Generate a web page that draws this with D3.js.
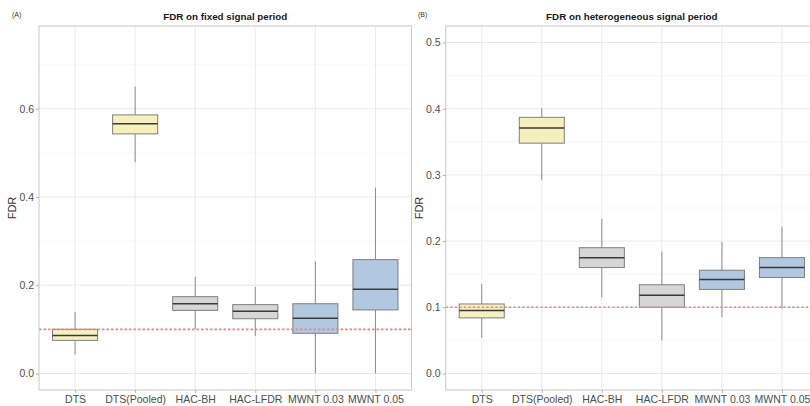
<!DOCTYPE html>
<html>
<head>
<meta charset="utf-8">
<script src="https://cdn.jsdelivr.net/npm/d3@7"></script>
<style>
  html, body { margin: 0; padding: 0; background: #fff; }
  svg { display: block; font-family: "Liberation Sans", Arial, sans-serif; }
</style>
</head>
<body>
<svg id="chart" width="810" height="406"></svg>
<script>
// Methods compared on the x axis
const methods = ["DTS", "DTS(Pooled)", "HAC-BH", "HAC-LFDR", "MWNT 0.03", "MWNT 0.05"];
const methodGroup = ["dts", "dts", "hac", "hac", "mwnt", "mwnt"];

// Panel A: FDR on fixed signal period (five-number summaries)
const fixedLow    = [0.043, 0.479, 0.100, 0.085, 0.000, 0.000];
const fixedQ1     = [0.075, 0.543, 0.143, 0.124, 0.091, 0.144];
const fixedMedian = [0.086, 0.566, 0.158, 0.141, 0.125, 0.191];
const fixedQ3     = [0.100, 0.586, 0.174, 0.156, 0.158, 0.258];
const fixedHigh   = [0.139, 0.650, 0.219, 0.196, 0.254, 0.421];
const fixedTicks  = [0.0, 0.2, 0.4, 0.6];

// Panel B: FDR on heterogeneous signal period
const hetLow    = [0.054, 0.292, 0.115, 0.050, 0.085, 0.098];
const hetQ1     = [0.084, 0.348, 0.160, 0.100, 0.127, 0.145];
const hetMedian = [0.095, 0.371, 0.175, 0.118, 0.142, 0.160];
const hetQ3     = [0.105, 0.387, 0.190, 0.134, 0.156, 0.175];
const hetHigh   = [0.135, 0.401, 0.234, 0.184, 0.199, 0.222];
const hetTicks  = [0.0, 0.1, 0.2, 0.3, 0.4, 0.5];

// Nominal FDR level
const targetFDR = 0.1;

const fillColor = { dts: "#F6F0BF", hac: "#D6D6D6", mwnt: "#B2C8E0" };

const svg = d3.select("#chart");

function drawPanel(opt) {
  const { left, right, top, bottom, yDomain, ticks, minor, low, q1, med, q3, high, title, tag, tagX, yTitleX } = opt;
  const g = svg.append("g");

  // Discrete positions with a 0.6-step margin on both sides
  const x = d3.scalePoint().domain(methods)
    .range([left, right]).padding(0.6);
  const step = x.step();
  const xc = d => x(d);
  const y = d3.scaleLinear().domain(yDomain).range([bottom, top]);

  const clipId = "clip-" + tag.replace(/[()]/g, "");
  svg.append("clipPath").attr("id", clipId)
    .append("rect").attr("x", left).attr("y", top).attr("width", right - left).attr("height", bottom - top);

  const inner = g.append("g").attr("clip-path", `url(#${clipId})`);

  // minor grid
  inner.selectAll(".minor").data(minor).join("line")
    .attr("x1", left).attr("x2", right)
    .attr("y1", d => y(d)).attr("y2", d => y(d))
    .attr("stroke", "#F3F3F3").attr("stroke-width", 0.6);
  // major grid
  inner.selectAll(".major").data(ticks).join("line")
    .attr("x1", left).attr("x2", right)
    .attr("y1", d => y(d)).attr("y2", d => y(d))
    .attr("stroke", "#EAEAEA").attr("stroke-width", 1);
  inner.selectAll(".vgrid").data(methods).join("line")
    .attr("x1", d => xc(d)).attr("x2", d => xc(d))
    .attr("y1", top).attr("y2", bottom)
    .attr("stroke", "#EAEAEA").attr("stroke-width", 1);

  const bw = step * 0.75;
  const boxes = inner.selectAll(".box").data(methods).join("g");
  // whiskers
  boxes.append("line")
    .attr("x1", d => xc(d)).attr("x2", d => xc(d))
    .attr("y1", (d, i) => y(high[i])).attr("y2", (d, i) => y(q3[i]))
    .attr("stroke", "#8C8C8C").attr("stroke-width", 1);
  boxes.append("line")
    .attr("x1", d => xc(d)).attr("x2", d => xc(d))
    .attr("y1", (d, i) => y(q1[i])).attr("y2", (d, i) => y(low[i]))
    .attr("stroke", "#8C8C8C").attr("stroke-width", 1);
  boxes.append("rect")
    .attr("x", d => xc(d) - bw / 2).attr("width", bw)
    .attr("y", (d, i) => y(q3[i])).attr("height", (d, i) => y(q1[i]) - y(q3[i]))
    .attr("fill", (d, i) => fillColor[methodGroup[i]])
    .attr("stroke", "#7E7E7E").attr("stroke-width", 1);
  boxes.append("line")
    .attr("x1", d => xc(d) - bw / 2).attr("x2", d => xc(d) + bw / 2)
    .attr("y1", (d, i) => y(med[i])).attr("y2", (d, i) => y(med[i]))
    .attr("stroke", "#3A3A3A").attr("stroke-width", 1.5);

  // nominal level (dotted)
  inner.append("line")
    .attr("x1", left).attr("x2", right)
    .attr("y1", y(targetFDR)).attr("y2", y(targetFDR))
    .attr("stroke", "#F0857D").attr("stroke-width", 1.6)
    .attr("stroke-dasharray", "2.5,2");

  // panel border
  g.append("rect").attr("x", left).attr("y", top)
    .attr("width", right - left).attr("height", bottom - top)
    .attr("fill", "none").attr("stroke", "#C8C8C8").attr("stroke-width", 1);

  // y axis
  const yAxis = g.append("g").attr("transform", `translate(${left},0)`)
    .call(d3.axisLeft(y).tickValues(ticks).tickFormat(d3.format(".1f")).tickSize(3).tickPadding(2));
  yAxis.select(".domain").remove();
  yAxis.selectAll(".tick line").attr("stroke", "#B3B3B3");
  yAxis.selectAll(".tick text").attr("fill", "#4D4D4D").style("font-size", "10.5px");

  // x axis
  const xAxis = g.append("g").attr("transform", `translate(0,${bottom})`)
    .call(d3.axisBottom(x).tickSize(3).tickPadding(3));
  xAxis.select(".domain").remove();
  xAxis.selectAll(".tick line").attr("stroke", "#B3B3B3");
  xAxis.selectAll(".tick text").attr("fill", "#4D4D4D").style("font-size", "10.5px");

  // titles
  g.append("text").attr("x", (left + right) / 2).attr("y", 20)
    .attr("text-anchor", "middle").attr("font-weight", "bold")
    .attr("fill", "#1A1A1A").style("font-size", "9.8px").text(title);
  g.append("text").attr("x", tagX).attr("y", 17)
    .attr("fill", "#333").style("font-size", "7px").text(tag);
  g.append("text")
    .attr("transform", `translate(${yTitleX},${(top + bottom) / 2}) rotate(-90)`)
    .attr("text-anchor", "middle").attr("fill", "#333")
    .style("font-size", "11px").text("FDR");
}

drawPanel({
  left: 39, right: 411.5, top: 26, bottom: 390,
  yDomain: [-0.0375, 0.7875], ticks: fixedTicks, minor: [0.1, 0.3, 0.5, 0.7],
  low: fixedLow, q1: fixedQ1, med: fixedMedian, q3: fixedQ3, high: fixedHigh,
  title: "FDR on fixed signal period", tag: "(A)", tagX: 12, yTitleX: 16
});

drawPanel({
  left: 445.7, right: 818, top: 26, bottom: 390,
  yDomain: [-0.025, 0.525], ticks: hetTicks, minor: [0.05, 0.15, 0.25, 0.35, 0.45],
  low: hetLow, q1: hetQ1, med: hetMedian, q3: hetQ3, high: hetHigh,
  title: "FDR on heterogeneous signal period", tag: "(B)", tagX: 418, yTitleX: 423
});
</script>
</body>
</html>
